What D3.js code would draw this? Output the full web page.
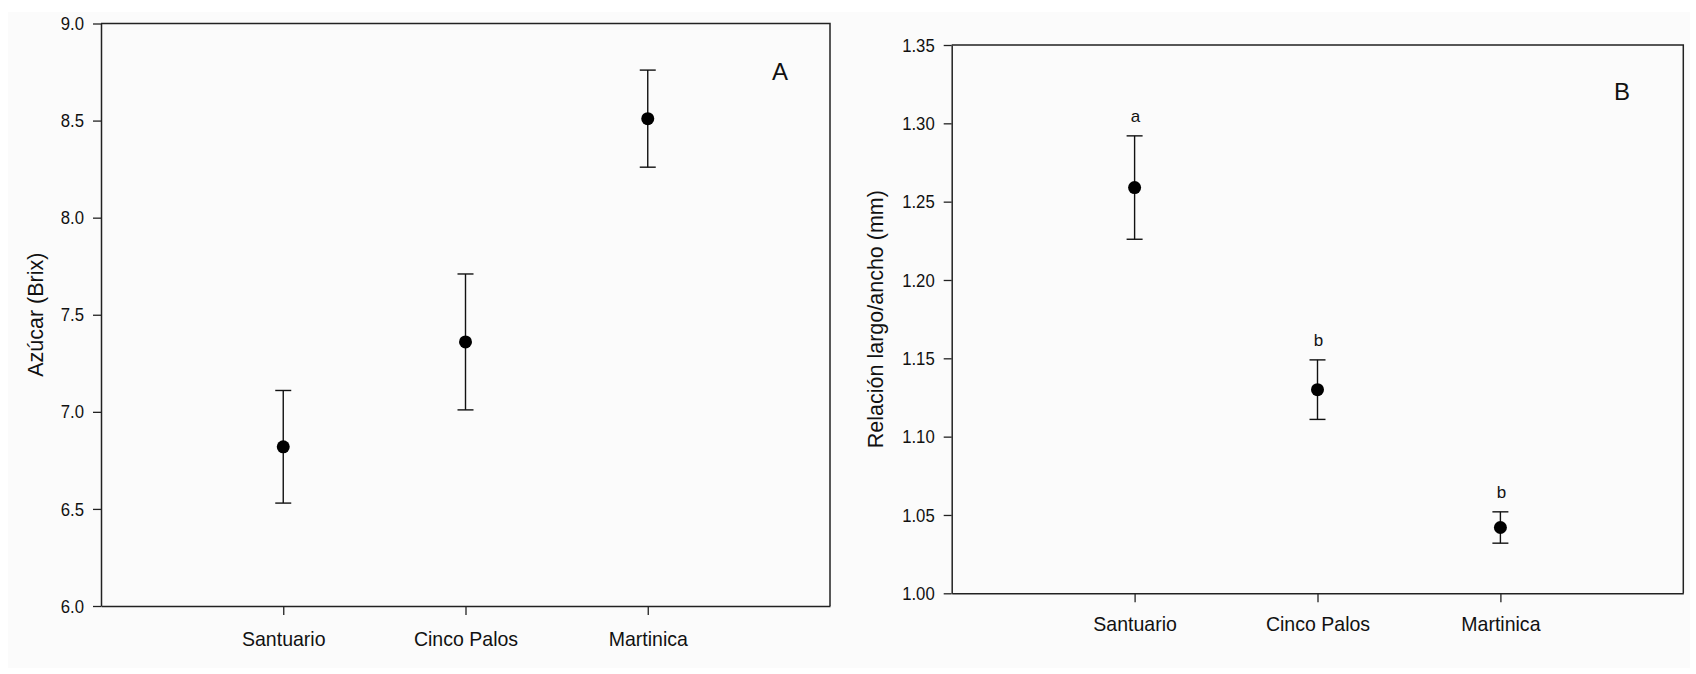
<!DOCTYPE html>
<html>
<head>
<meta charset="utf-8">
<script src="https://cdn.jsdelivr.net/npm/d3@7"></script>
<style>
body{margin:0;background:#fff;}
text{font-family:"Liberation Sans",Arial,sans-serif;fill:#111;}
</style>
</head>
<body>
<svg id="chart" width="1696" height="674"></svg>
<script>
// categories
const sites = ["Santuario", "Cinco Palos", "Martinica"];

// panel A: sugar (Brix), mean and error
const sugarMean = [6.82, 7.36, 8.51];
const sugarErr = [0.29, 0.35, 0.25];
const sugarTicks = [6.0, 6.5, 7.0, 7.5, 8.0, 8.5, 9.0];

// panel B: length/width ratio, mean, error and letters
const ratioMean = [1.259, 1.130, 1.042];
const ratioErr = [0.033, 0.019, 0.010];
const ratioLetters = ["a", "b", "b"];
const ratioTicks = [1.00, 1.05, 1.10, 1.15, 1.20, 1.25, 1.30, 1.35];

const svg = d3.select("#chart");

// light paper background
svg.append("rect")
.attr("x", 8).attr("y", 12)
.attr("width", 1682).attr("height", 656)
.attr("fill", "#fbfbfb");

function drawPanel(p) {
    const x = d3.scaleLinear().domain([0, 4]).range([p.left, p.right]);
    const y = d3.scaleLinear().domain(d3.extent(p.ticks)).range([p.bottom, p.top]);
    const g = svg.append("g");

    // frame (top + right)
    g.append("path")
    .attr("d", `M${p.left},${p.top}H${p.right}V${p.bottom}`)
    .attr("fill", "none").attr("stroke", "#222").attr("stroke-width", 1.5);

    // y axis
    const ya = g.append("g").attr("transform", `translate(${p.left},0)`)
    .call(d3.axisLeft(y).tickValues(p.ticks).tickFormat(d3.format(p.fmt))
        .tickSize(8).tickSizeOuter(0));

    // x axis
    const xa = g.append("g").attr("transform", `translate(0,${p.bottom})`)
    .call(d3.axisBottom(x).tickValues([1, 2, 3]).tickFormat(i => sites[i - 1])
        .tickSize(9).tickSizeOuter(0).tickPadding(p.xpad));

    [ya, xa].forEach(a => {
        a.select(".domain").attr("stroke", "#222").attr("stroke-width", 1.5);
        a.selectAll(".tick line").attr("stroke", "#222").attr("stroke-width", 1.3);
    });
    // slightly condensed labels, like the original export
    ya.selectAll("text").attr("font-size", 19).attr("font-family", null).attr("fill", "#111")
    .attr("x", null).attr("transform", "translate(-17,0) scale(0.88,1)");
    xa.selectAll("text").attr("font-size", 21).attr("font-family", null).attr("fill", "#111")
    .attr("transform", "scale(0.93,1)");

    // error bars
    const pts = p.mean.map((m, i) => ({i: i + 1, m: m, e: p.err[i], lab: p.letters ? p.letters[i] : null}));
    const bars = g.append("g").attr("stroke", "#111").attr("stroke-width", 1.4);
    pts.forEach(d => {
        bars.append("line")
        .attr("x1", x(d.i)).attr("x2", x(d.i))
        .attr("y1", y(d.m - d.e)).attr("y2", y(d.m + d.e));
        [d.m - d.e, d.m + d.e].forEach(v => {
            bars.append("line")
            .attr("x1", x(d.i) - 8).attr("x2", x(d.i) + 8)
            .attr("y1", y(v)).attr("y2", y(v));
        });
    });

    g.selectAll("circle.pt").data(pts).enter()
    .append("circle")
    .attr("cx", d => x(d.i)).attr("cy", d => y(d.m))
    .attr("r", 6.5).attr("fill", "#000");

    if (p.letters) {
        g.selectAll("text.let").data(pts).enter()
        .append("text")
        .attr("x", d => x(d.i) + 1).attr("y", d => y(d.m + d.e) - 14)
        .attr("text-anchor", "middle").attr("font-size", 17)
        .text(d => d.lab);
    }

    // y title
    g.append("text")
    .attr("transform", `translate(${p.titleX},${(p.top + p.bottom) / 2}) rotate(-90)`)
    .attr("text-anchor", "middle").attr("font-size", 21.5)
    .text(p.title);

    // panel letter
    g.append("text")
    .attr("x", p.tagX).attr("y", p.tagY)
    .attr("font-size", 24)
    .text(p.tag);
}

drawPanel({
    left: 101, right: 830, top: 23.5, bottom: 606,
    ticks: sugarTicks, fmt: ".1f", mean: sugarMean, err: sugarErr,
    title: "Azúcar (Brix)", titleX: 43, tag: "A", tagX: 772, tagY: 80, xpad: 16
});

drawPanel({
    left: 951.7, right: 1683.3, top: 45, bottom: 593.3,
    ticks: ratioTicks, fmt: ".2f", mean: ratioMean, err: ratioErr, letters: ratioLetters,
    title: "Relación largo/ancho (mm)", titleX: 883, tag: "B", tagX: 1614, tagY: 100, xpad: 14
});
</script>
</body>
</html>
